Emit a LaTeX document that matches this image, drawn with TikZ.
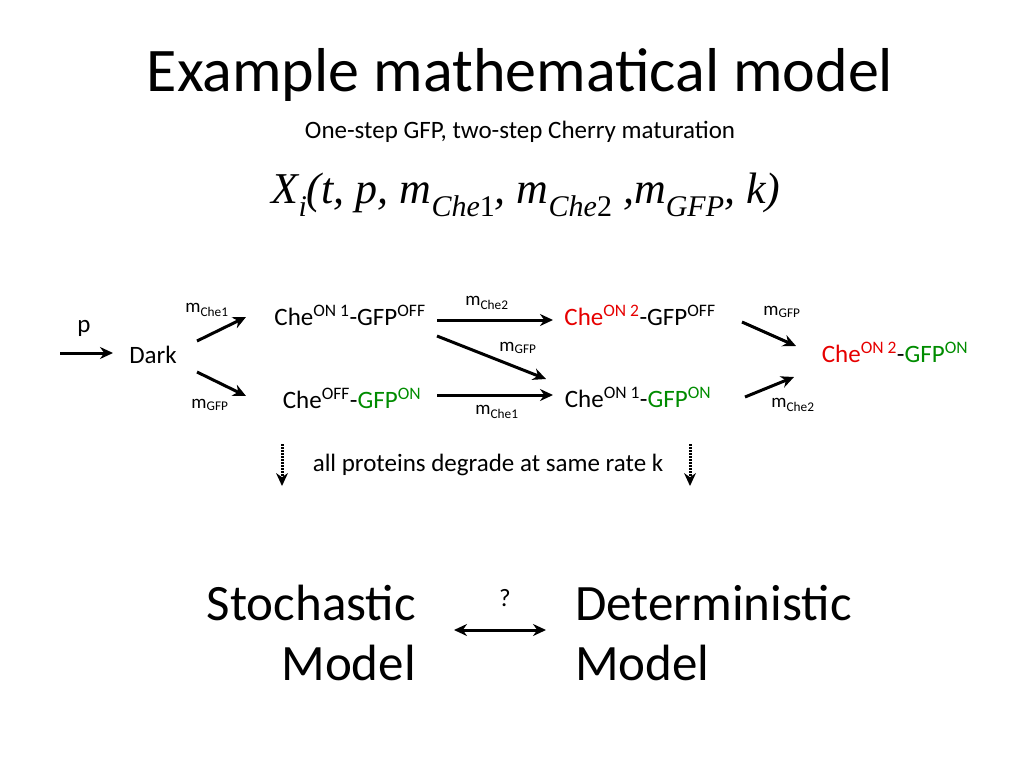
\documentclass[tikz,border=0pt]{standalone}
\usepackage{fontspec}
\setmainfont{Carlito}
\newfontfamily\tms{Liberation Serif}
\usetikzlibrary{arrows.meta}
\definecolor{myred}{RGB}{230,0,0}
\definecolor{mygreen}{RGB}{0,140,0}
\newcommand{\mysub}[1]{\raisebox{-0.3em}{\fontsize{30}{33}\selectfont #1}}
\begin{document}
\begin{tikzpicture}[x=1pt,y=-1pt,
  txt/.style={inner sep=0pt,font=\fontsize{25}{28}\selectfont},
  lab/.style={inner sep=0pt,font=\fontsize{19}{22}\selectfont},
  arr/.style={line width=3pt,-{Stealth[length=13pt,width=12pt]}},
  dotarr/.style={line width=3pt,dash pattern=on 1.5pt off 1.5pt,-{Stealth[length=13pt,width=12pt,line width=0pt]}}]
\useasboundingbox (0,0) rectangle (1024,768);
\node[inner sep=0pt,font=\fontsize{62}{68}\selectfont] (title) at (520,75) {Example mathematical model};
\node[txt] (sub) at (520,132) {One-step GFP, two-step Cherry maturation};
\node[inner sep=0pt,font=\fontsize{44}{50}\selectfont\tms\itshape] (form) at (526,195)
 {X\mysub{i}(t,\ p,\ m\mysub{Che\upshape 1},\ m\mysub{Che\upshape 2}\ ,m\mysub{GFP},\ k)};
\node[txt] (p) at (84,328) {p};
\coordinate (ps) at (60,353);
\coordinate (pe) at (113,353);
\draw[arr] (ps) -- (pe);
\node[txt] (dark) at (153,355) {Dark};
\node[lab] (l1) at (207,310) {m\textsubscript{Che1}};
\node[lab] (l2) at (210,405) {m\textsubscript{GFP}};
\coordinate (a1s) at (197,341); \coordinate (a1e) at (246,317);
\coordinate (a2s) at (197,372); \coordinate (a2e) at (246,396);
\draw[arr] (a1s) -- (a1e);
\draw[arr] (a2s) -- (a2e);
\node[txt] (n1) at (350,315) {Che\textsuperscript{ON 1}-GFP\textsuperscript{OFF}};
\node[txt] (n2) at (352,398) {Che\textsuperscript{OFF}-\textcolor{mygreen}{GFP\textsuperscript{ON}}};
\node[txt] (n3) at (640,315) {\textcolor{myred}{Che\textsuperscript{ON 2}}-GFP\textsuperscript{OFF}};
\node[txt] (n4) at (638,397) {Che\textsuperscript{ON 1}-\textcolor{mygreen}{GFP\textsuperscript{ON}}};
\node[txt] (n5) at (895,352) {\textcolor{myred}{Che\textsuperscript{ON 2}}-\textcolor{mygreen}{GFP\textsuperscript{ON}}};
\coordinate (b1s) at (437,320); \coordinate (b1e) at (553,320);
\coordinate (b2s) at (437,336); \coordinate (b2e) at (546,379);
\coordinate (b3s) at (437,395); \coordinate (b3e) at (553,395);
\draw[arr] (b1s) -- (b1e);
\draw[arr] (b2s) -- (b2e);
\draw[arr] (b3s) -- (b3e);
\node[lab] (l3) at (487,303) {m\textsubscript{Che2}};
\node[lab] (l4) at (518,348) {m\textsubscript{GFP}};
\node[lab] (l5) at (497,412) {m\textsubscript{Che1}};
\coordinate (c1s) at (742,322); \coordinate (c1e) at (796,346);
\coordinate (c2s) at (745,397); \coordinate (c2e) at (794,377);
\draw[arr] (c1s) -- (c1e);
\draw[arr] (c2s) -- (c2e);
\node[lab] (l6) at (782,312) {m\textsubscript{GFP}};
\node[lab] (l7) at (793,405) {m\textsubscript{Che2}};
\coordinate (d1s) at (282,444); \coordinate (d1e) at (282,486);
\coordinate (d2s) at (690,444); \coordinate (d2e) at (690,486);
\draw[dotarr] (d1s) -- (d1e);
\draw[dotarr] (d2s) -- (d2e);
\node[txt] (deg) at (488,465) {all proteins degrade at same rate k};
\node[inner sep=0pt,font=\fontsize{51}{56}\selectfont,anchor=east] (st) at (416,603) {Stochastic};
\node[inner sep=0pt,font=\fontsize{51}{56}\selectfont,anchor=east] (sm) at (416,663) {Model};
\node[inner sep=0pt,font=\fontsize{51}{56}\selectfont,anchor=west] (de) at (575,603) {Deterministic};
\node[inner sep=0pt,font=\fontsize{51}{56}\selectfont,anchor=west] (dm) at (575,663) {Model};
\node[txt] (q) at (505,598) {?};
\coordinate (e1) at (454,630); \coordinate (e2) at (546,630);
\draw[line width=3pt,{Stealth[length=13pt,width=12pt]}-{Stealth[length=13pt,width=12pt]}] (e1) -- (e2);
\end{tikzpicture}
\end{document}
